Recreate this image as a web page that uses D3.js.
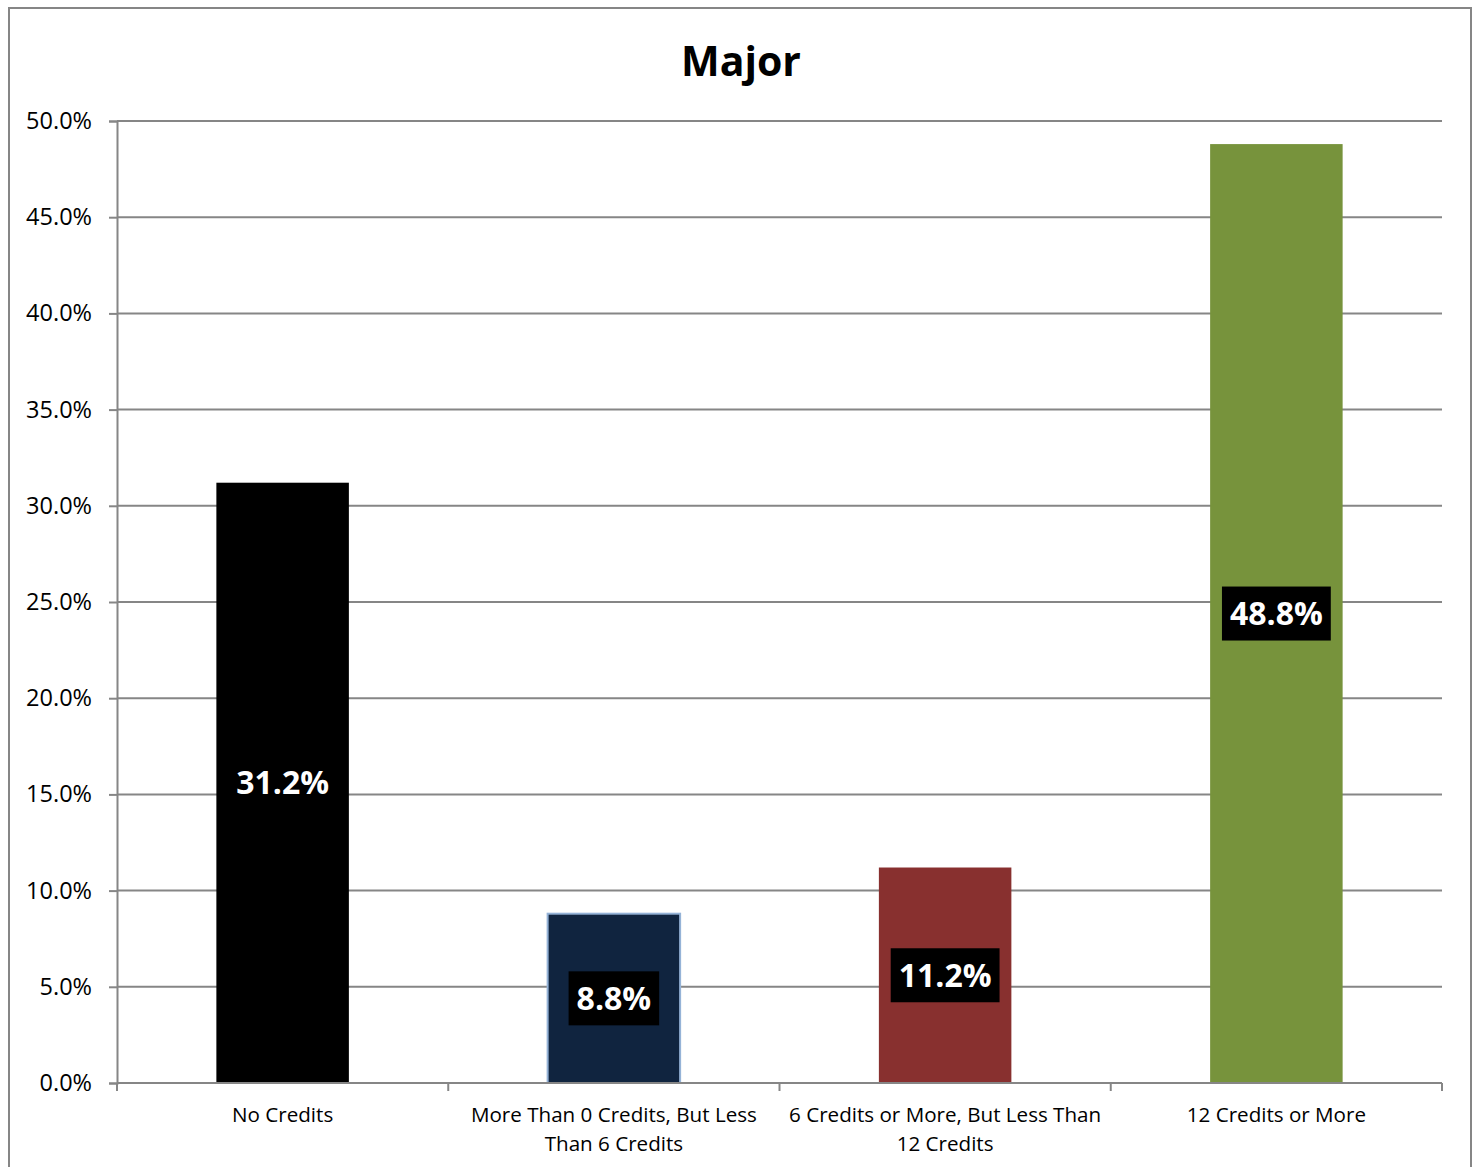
<!DOCTYPE html>
<html><head><meta charset="utf-8">
<script src="https://cdn.jsdelivr.net/npm/d3@7"></script>
<style>body{margin:0;background:#fff}svg{display:block}</style>
</head><body>
<svg id="c" width="1476" height="1167"></svg>
<script>
const categories = [["No Credits"], ["More Than 0 Credits, But Less", "Than 6 Credits"], ["6 Credits or More, But Less Than", "12 Credits"], ["12 Credits or More"]];
const values = [31.2, 8.8, 11.2, 48.8];
const labels = ["31.2%", "8.8%", "11.2%", "48.8%"];
const colors = ["#000000", "#10243F", "#88302F", "#77933C"];
const strokes = ["none", "#95B3D7", "none", "none"];
const yTicks = [0, 5, 10, 15, 20, 25, 30, 35, 40, 45, 50];
const title = "Major";

const font = "'Open Sans', sans-serif";
const svg = d3.select("#c");
const L = 117, R = 1442, T = 121, B = 1083;
const x = d3.scaleBand().domain(d3.range(values.length)).range([L, R]).paddingInner(0.6).paddingOuter(0.3);
const xb = d3.scaleBand().domain(d3.range(values.length)).range([L, R]);
const y = d3.scaleLinear().domain([0, 50]).range([B, T]);
const grey = "#868686";

svg.append("rect").attr("x", 9).attr("y", 8).attr("width", 1462).attr("height", 1170)
  .attr("fill", "#fff").attr("stroke", grey).attr("stroke-width", 2);

svg.append("text").attr("x", 741).attr("y", 76).attr("text-anchor", "middle")
  .attr("font-family", font).attr("font-weight", "bold").attr("font-size", 41).attr("fill", "#000").text(title);

// gridlines
svg.append("g").selectAll("line").data(yTicks.filter(d => d > 0)).join("line")
  .attr("x1", L).attr("x2", R).attr("y1", d => y(d)).attr("y2", d => y(d))
  .attr("stroke", grey).attr("stroke-width", 2);

// y axis
const yAxis = d3.axisLeft(y).tickValues(yTicks).tickSize(8).tickPadding(17).tickFormat(d => d.toFixed(1) + "%");
const gy = svg.append("g").attr("transform", `translate(${L},0)`).call(yAxis);
gy.select(".domain").attr("stroke", grey).attr("stroke-width", 2);
gy.selectAll(".tick line").attr("stroke", grey).attr("stroke-width", 2);
gy.selectAll(".tick text").attr("font-family", font).attr("font-size", 23.5).attr("fill", "#000");

// bars
svg.append("g").selectAll("rect").data(values).join("rect")
  .attr("x", (d, i) => x(i)).attr("width", x.bandwidth())
  .attr("y", d => y(d)).attr("height", d => B - y(d))
  .attr("fill", (d, i) => colors[i])
  .attr("stroke", (d, i) => strokes[i]).attr("stroke-width", 2);

// x axis
svg.append("line").attr("x1", L).attr("x2", R).attr("y1", B).attr("y2", B).attr("stroke", grey).attr("stroke-width", 2);
const bounds = d3.range(values.length + 1).map(i => i < values.length ? xb(i) : R);
svg.append("g").selectAll("line").data(bounds).join("line")
  .attr("x1", d => d).attr("x2", d => d).attr("y1", B).attr("y2", B + 8)
  .attr("stroke", grey).attr("stroke-width", 2);

// category labels
const cl = svg.append("g").selectAll("text").data(categories).join("text")
  .attr("text-anchor", "middle").attr("font-family", font).attr("font-size", 20.6).attr("fill", "#000")
  .attr("transform", (d, i) => `translate(${xb(i) + xb.bandwidth() / 2},1122)`);
cl.selectAll("tspan").data(d => d).join("tspan").attr("x", 0).attr("dy", (d, j) => j === 0 ? 0 : 29).text(d => d);

// value labels
const vg = svg.append("g").selectAll("g").data(values).join("g")
  .attr("transform", (d, i) => `translate(${x(i) + x.bandwidth() / 2},${y(d / 2)})`);
vg.append("text").attr("text-anchor", "middle").attr("dy", "0.36em")
  .attr("font-family", font).attr("font-weight", "bold").attr("font-size", 32).attr("fill", "#fff")
  .text((d, i) => labels[i]);
vg.each(function () {
  const g = d3.select(this), bb = g.select("text").node().getBBox();
  g.insert("rect", "text").attr("x", bb.x - 8).attr("y", -27).attr("width", bb.width + 16).attr("height", 54).attr("fill", "#000");
});
</script>
</body></html>
